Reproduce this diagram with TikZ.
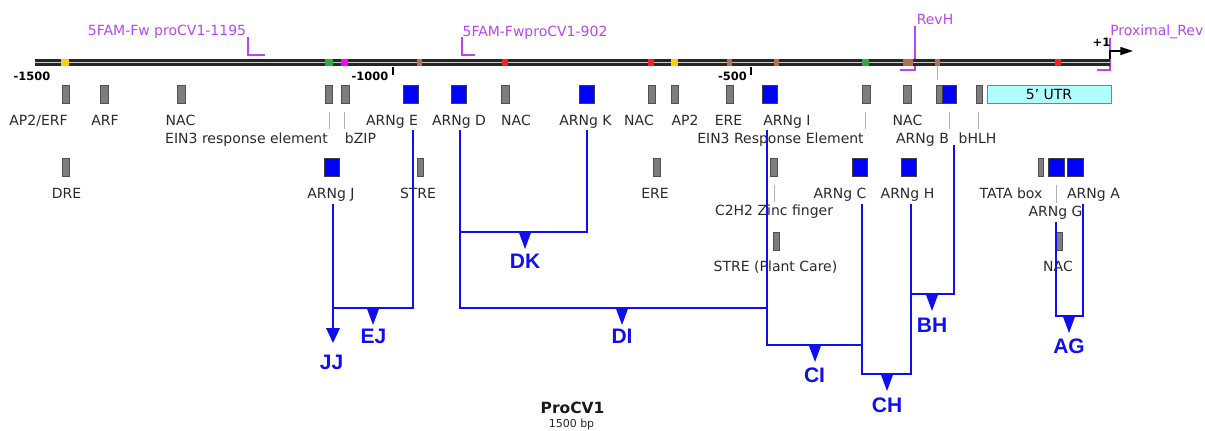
\documentclass[tikz,border=0pt]{standalone}
\usepackage{fontspec}
\setmainfont{DejaVu Sans}
\newfontfamily\arialfont{Liberation Sans}
\usetikzlibrary{arrows.meta}
\definecolor{arn}{RGB}{15,15,240}
\definecolor{prim}{RGB}{185,70,240}
\definecolor{txt}{RGB}{42,42,42}
\definecolor{gbfill}{RGB}{125,125,125}
\definecolor{gbdraw}{RGB}{80,80,80}
\definecolor{utr}{RGB}{175,255,255}
\definecolor{myyellow}{RGB}{255,205,0}
\definecolor{mygreen}{RGB}{50,170,60}
\definecolor{mymag}{RGB}{255,0,255}
\definecolor{mybrown}{RGB}{180,110,80}
\definecolor{myred}{RGB}{255,30,30}
\tikzset{
  lbl/.style={font=\fontsize{10.5}{12}\selectfont, text=txt, inner sep=0pt, anchor=base},
  plbl/.style={font=\fontsize{10.5}{12}\selectfont, text=prim, inner sep=0pt, anchor=base},
  tlbl/.style={font=\bfseries\fontsize{8.6}{10}\selectfont, text=black, inner sep=0pt, anchor=base},
  pairlbl/.style={font=\arialfont\bfseries\fontsize{15.75}{18}\selectfont, text=arn, inner sep=0pt, anchor=base},
  gbox/.style={draw=gbdraw, fill=gbfill, minimum width=5.6pt, minimum height=13.5pt, inner sep=0pt, line width=0.6pt},
  bbox/.style={draw=black!75, fill=blue, minimum width=11.25pt, minimum height=13.5pt, inner sep=0pt, line width=0.6pt},
  link/.style={draw=arn, line width=1.9pt, line join=miter},
  guide/.style={draw=black!30, line width=0.75pt},
  primer/.style={draw=prim, line width=1.6pt},
}
\newcommand\pairmark[1]{\fill[arn] (#1) ++(-6.5,-0.6) -- ++(13,0) -- ++(-6.5,17.6) -- cycle;}
\begin{document}
\begin{tikzpicture}[x=0.75pt,y=-0.75pt]
\useasboundingbox (0,0) rectangle (1205,430);

% ---- primers ----
\node[plbl] (p1195) at (167,35.5) {5FAM-Fw proCV1-1195};
\coordinate (p1195a) at (248,37);
\coordinate (p1195b) at (248,55);
\coordinate (p1195c) at (265,55);
\draw[primer] (p1195a) -- (p1195b) -- (p1195c);
\node[plbl] (p902) at (535,36) {5FAM-FwproCV1-902};
\coordinate (p902a) at (462,37);
\coordinate (p902b) at (462,55);
\coordinate (p902c) at (475,55);
\draw[primer] (p902a) -- (p902b) -- (p902c);
\node[plbl] (revh) at (935,24) {RevH};
\coordinate (revha) at (915,26);
\coordinate (revhb) at (915,70);
\coordinate (revhc) at (900,70);
\draw[primer] (revha) -- (revhb) -- (revhc);
\node[plbl, anchor=base west] (prox) at (1110,35.5) {Proximal\_Rev};
\coordinate (proxa) at (1110,38);
\coordinate (proxb) at (1110,70);
\coordinate (proxc) at (1097,70);
\draw[primer] (proxa) -- (proxb) -- (proxc);

% ---- track ----
\fill[black!85] (35,58.5) rectangle (1110,66);
\draw[black!20, line width=0.6pt] (35,62.2) -- (1110,62.2);
\foreach \a/\b/\c in {61/69/myyellow, 325/333/mygreen, 341/348/mymag, 417/422/mybrown,
  502/508/myred, 648/654/myred, 671/678/myyellow, 727/732/mybrown, 774/779/mybrown,
  862/869/mygreen, 903/913/mybrown, 935/940/mybrown, 1055/1061/myred}
  \fill[\c] (\a,58.5) rectangle (\b,66);
\draw[black, line width=1.1pt] (393,67) -- (393,75);
\draw[black, line width=1.1pt] (751,67) -- (751,75);
\node[tlbl] (t1500) at (32,80) {-1500};
\node[tlbl] (t1000) at (370,80) {-1000};
\node[tlbl] (t500) at (732.5,80) {-500};
\node[tlbl] (tp1) at (1101.5,46.5) {+1};
\coordinate (tss0) at (1110,59);
\coordinate (tss1) at (1110,51);
\coordinate (tss2) at (1133,51);
\draw[black, line width=1.1pt, -{Triangle[length=9.5pt,width=6pt]}] (tss0) -- (tss1) -- (tss2);
\draw[guide] (937,66) -- (937,80);

% ---- row 1 boxes ----
\node[gbox] (g1) at (66,94) {};
\node[gbox] (g2) at (104.5,94) {};
\node[gbox] (g3) at (181.5,94) {};
\node[gbox] (g4) at (329,94) {};
\node[gbox] (g5) at (345.5,94) {};
\node[bbox] (bE) at (411,94) {};
\node[bbox] (bD) at (459,94) {};
\node[gbox] (g6) at (505.5,94) {};
\node[bbox] (bK) at (586.5,94) {};
\node[gbox] (g7) at (652,94) {};
\node[gbox] (g8) at (675,94) {};
\node[gbox] (g9) at (730,94) {};
\node[bbox] (bI) at (769.5,94) {};
\node[gbox] (g10) at (866.5,94) {};
\node[gbox] (g11) at (907.5,94) {};
\node[gbox] (g12) at (940,94) {};
\node[bbox, minimum width=10.5pt] (bB) at (949,94) {};
\node[gbox, minimum width=4.5pt] (g13) at (979,94) {};
\node[draw=black!50, fill=utr, minimum width=93pt, minimum height=13.5pt, inner sep=0pt, line width=0.75pt,
  font=\fontsize{10.5}{12}\selectfont, text=black] (utr) at (1049,94) {5' UTR};

% ---- row 1 labels ----
\node[lbl] (lAP2ERF) at (38.5,125.5) {AP2/ERF};
\node[lbl] (lARF) at (105,125.5) {ARF};
\node[lbl] (lNAC1) at (180.5,125.5) {NAC};
\node[lbl] (lE) at (392,125.5) {ARNg E};
\node[lbl] (lD) at (459,125.5) {ARNg D};
\node[lbl] (lNAC2) at (516,125.5) {NAC};
\node[lbl] (lK) at (585.5,125.5) {ARNg K};
\node[lbl] (lNAC3) at (639,125.5) {NAC};
\node[lbl] (lAP2) at (685,125.5) {AP2};
\node[lbl] (lERE1) at (728.5,125.5) {ERE};
\node[lbl] (lI) at (787,125.5) {ARNg I};
\node[lbl] (lNAC4) at (907.5,125.5) {NAC};
\node[lbl] (lEIN1) at (246.5,143) {EIN3 response element};
\node[lbl] (lbZIP) at (360.5,143) {bZIP};
\node[lbl] (lEIN2) at (780.5,143) {EIN3 Response Element};
\node[lbl] (lB) at (922.5,143) {ARNg B};
\node[lbl] (lbHLH) at (977.5,143) {bHLH};
\foreach \x in {329,344,865,949,978} \draw[guide] (\x,112) -- (\x,129);

% ---- row 2 ----
\node[gbox] (h1) at (66,167.5) {};
\node[bbox] (bJ) at (331.5,167.5) {};
\node[gbox, minimum width=4.5pt] (h2) at (420.5,167.5) {};
\node[gbox] (h3) at (657,167.5) {};
\node[gbox] (h4) at (774,167.5) {};
\node[bbox] (bC) at (860,167.5) {};
\node[bbox] (bH) at (908.5,167.5) {};
\node[gbox, minimum width=3.8pt] (h5) at (1041,167.5) {};
\node[bbox, minimum width=12.5pt] (bG) at (1056.5,167.5) {};
\node[bbox, minimum width=12pt] (bA) at (1075,167.5) {};
\node[lbl] (lDRE) at (66.5,198) {DRE};
\node[lbl] (lJ) at (331,198) {ARNg J};
\node[lbl] (lSTRE) at (418,198) {STRE};
\node[lbl] (lERE2) at (655,198) {ERE};
\node[lbl] (lC) at (840,198) {ARNg C};
\node[lbl] (lH) at (907.5,198) {ARNg H};
\node[lbl] (lTATA) at (1011,198) {TATA box};
\node[lbl] (lA) at (1093.5,198) {ARNg A};
\node[lbl] (lC2H2) at (774,215.5) {C2H2 Zinc finger};
\node[lbl] (lG) at (1055.5,216.5) {ARNg G};
\draw[guide] (774,185) -- (774,202);
\draw[guide] (1056,185) -- (1056,203);

% ---- row 3 ----
\node[gbox, minimum width=4.5pt] (k1) at (776.5,241.5) {};
\node[gbox, minimum width=4.5pt] (k2) at (1059,241.5) {};
\node[lbl] (lSTRE2) at (775.5,271) {STRE (Plant Care)};
\node[lbl] (lNAC5) at (1058,271) {NAC};

% ---- ARNg pairing connectors ----
\coordinate (jTop) at (333,204);
\coordinate (jBot) at (333,330);
\coordinate (eTop) at (413,130);
\coordinate (eBot) at (413,308);
\coordinate (ejBar) at (333,308);
\coordinate (dTop) at (460,130);
\coordinate (dBot) at (460,308);
\coordinate (kTop) at (587,130);
\coordinate (kBot) at (587,232);
\coordinate (dkBar) at (460,232);
\coordinate (iTop) at (767,130);
\coordinate (iBot) at (767,345);
\coordinate (iMid) at (767,308);
\coordinate (cTop) at (862,204);
\coordinate (cBot) at (862,374);
\coordinate (ciBar) at (862,345);
\coordinate (hTop) at (911,204);
\coordinate (hBot) at (911,374);
\coordinate (bhBar) at (911,294);
\coordinate (bTop) at (954,145);
\coordinate (bBot) at (954,294);
\coordinate (gTop) at (1056,222);
\coordinate (gBot) at (1056,316);
\coordinate (aTop) at (1083,204);
\coordinate (aBot) at (1083,316);

\draw[link] (jTop) -- (jBot);
\fill[arn] (326,328) -- (340,328) -- (333,343) -- cycle;
\draw[link] (eTop) -- (eBot) -- (ejBar);
\draw[link] (kTop) -- (kBot) -- (dkBar);
\draw[link] (dTop) -- (dBot) -- (iMid);
\draw[link] (iTop) -- (iBot) -- (ciBar);
\draw[link] (cTop) -- (cBot) -- (hBot) -- (hTop);
\draw[link] (bhBar) -- (bBot) -- (bTop);
\draw[link] (gTop) -- (gBot) -- (aBot) -- (aTop);

\coordinate (mEJ) at (373,308);
\coordinate (mDK) at (525,232);
\coordinate (mDI) at (622,308);
\coordinate (mCI) at (815,345);
\coordinate (mCH) at (887,374);
\coordinate (mBH) at (932,294);
\coordinate (mAG) at (1069,316);
\pairmark{mEJ}
\pairmark{mDK}
\pairmark{mDI}
\pairmark{mCI}
\pairmark{mCH}
\pairmark{mBH}
\pairmark{mAG}

\node[pairlbl] (nJJ) at (331.5,369) {JJ};
\node[pairlbl] (nEJ) at (373.5,343) {EJ};
\node[pairlbl] (nDK) at (525,268) {DK};
\node[pairlbl] (nDI) at (622,343) {DI};
\node[pairlbl] (nCI) at (814.5,382) {CI};
\node[pairlbl] (nCH) at (887,412) {CH};
\node[pairlbl] (nBH) at (932,332) {BH};
\node[pairlbl] (nAG) at (1069,353) {AG};

% ---- title ----
\node[font=\bfseries\fontsize{11.6}{13}\selectfont, text=black!90, inner sep=0pt, anchor=base] (title) at (572.5,413) {ProCV1};
\node[font=\fontsize{8.25}{10}\selectfont, text=black!85, inner sep=0pt, anchor=base] (sub) at (571.5,427.5) {1500 bp};
\end{tikzpicture}
\end{document}
